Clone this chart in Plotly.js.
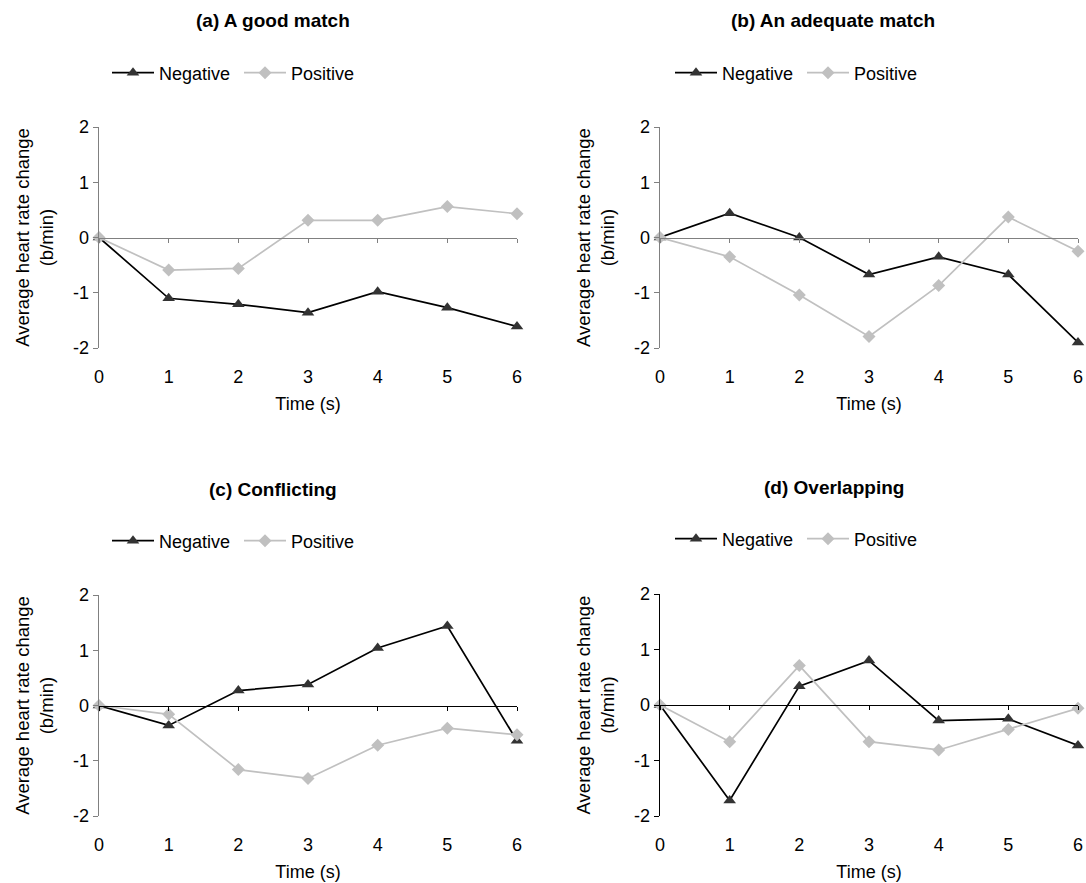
<!DOCTYPE html>
<html>
<head>
<meta charset="utf-8">
<script src="https://cdn.plot.ly/plotly-3.0.1.min.js"></script>
<style>html,body{margin:0;padding:0;background:#fff;}#chart{width:1086px;height:883px;}</style>
</head>
<body>
<div id="chart"></div>
<script>
// ---- data ----
const times = [0, 1, 2, 3, 4, 5, 6];
const panelTitles = ["(a) A good match", "(b) An adequate match", "(c) Conflicting", "(d) Overlapping"];
const seriesNames = ["Negative", "Positive"];
const aNegative = [0, -1.10, -1.21, -1.36, -0.98, -1.27, -1.61];
const aPositive = [0, -0.59, -0.56, 0.31, 0.31, 0.56, 0.43];
const bNegative = [0, 0.44, 0.00, -0.67, -0.35, -0.67, -1.90];
const bPositive = [0, -0.35, -1.04, -1.79, -0.87, 0.37, -0.25];
const cNegative = [0, -0.36, 0.27, 0.38, 1.04, 1.44, -0.64];
const cPositive = [0, -0.16, -1.16, -1.32, -0.72, -0.41, -0.53];
const dNegative = [0, -1.72, 0.34, 0.80, -0.28, -0.25, -0.73];
const dPositive = [0, -0.66, 0.71, -0.66, -0.81, -0.44, -0.06];
const yTicks = [-2, -1, 0, 1, 2];
const yTickText = ["-2", "-1", "0", "1", "2"];
const xTickText = ["0", "1", "2", "3", "4", "5", "6"];
const xTitle = "Time (s)";
const yTitle = "Average heart rate change<br>(b/min)";

const negData = [aNegative, bNegative, cNegative, dNegative];
const posData = [aPositive, bPositive, cPositive, dPositive];

// ---- layout geometry (pixels) ----
const W = 1086, H = 883;
const panels = [
  {x0: 99, x1: 517, top: 127, bottom: 348, titleX: 273, titleY: 21, legX: 107, legY: 73, zeroColor: "#808080", yLineColor: "#808080"},
  {x0: 660, x1: 1078, top: 127, bottom: 348, titleX: 833, titleY: 21, legX: 670, legY: 73, zeroColor: "#808080", yLineColor: "#808080"},
  {x0: 99, x1: 517, top: 595, bottom: 816, titleX: 273, titleY: 489, legX: 107, legY: 541, zeroColor: "#000000", yLineColor: "#808080"},
  {x0: 660, x1: 1078, top: 594, bottom: 816, titleX: 834, titleY: 487, legX: 670, legY: 539, zeroColor: "#000000", yLineColor: "#000000"}
];
const FONT = "Liberation Sans, Arial, sans-serif";
const px = v => v / W;
const py = v => 1 - v / H;

const traces = [];
const layout = {
  width: W, height: H,
  margin: {l: 0, r: 0, t: 0, b: 0},
  paper_bgcolor: "#ffffff",
  plot_bgcolor: "rgba(0,0,0,0)",
  font: {family: FONT, size: 18, color: "#000"},
  annotations: [],
  showlegend: true
};

panels.forEach((p, i) => {
  const n = i + 1;
  const xs = n === 1 ? "" : String(n);
  const legName = n === 1 ? "legend" : "legend" + n;
  const xDom = [px(p.x0), px(p.x1)];
  const yDom = [py(p.bottom), py(p.top)];
  const zeroY = (p.top + p.bottom) / 2;
  // x axis drawn through y = 0, labels pushed down to the bottom of the plot
  layout["xaxis" + xs] = {
    domain: xDom, range: [0, 6], anchor: "free",
    position: (yDom[0] + yDom[1]) / 2,
    showline: true, linecolor: p.zeroColor, linewidth: 1.3,
    ticks: "outside", ticklen: 4, tickcolor: p.zeroColor, tickwidth: 1,
    tickvals: times, ticktext: xTickText, showgrid: false, zeroline: false,
    ticklabelstandoff: Math.round(p.bottom - zeroY + 8),
    tickfont: {family: FONT, size: 18, color: "#000"},
    title: {text: xTitle, font: {family: FONT, size: 18, color: "#000"}, standoff: 11},
    fixedrange: true
  };
  layout["yaxis" + xs] = {
    domain: yDom, range: [-2, 2], anchor: "x" + xs,
    showline: true, linecolor: p.yLineColor, linewidth: 1.3,
    ticks: "outside", ticklen: 5, tickcolor: p.yLineColor,
    tickvals: yTicks, ticktext: yTickText, showgrid: false, zeroline: false,
    tickfont: {family: FONT, size: 18, color: "#000"},
    title: {text: yTitle, font: {family: FONT, size: 18.5, color: "#000"}, standoff: 14},
    fixedrange: true
  };
  layout[legName] = {
    orientation: "h", x: px(p.legX), y: py(p.legY), xanchor: "left", yanchor: "middle",
    font: {family: FONT, size: 18, color: "#000"}, bgcolor: "rgba(0,0,0,0)",
    itemwidth: 42, entrywidth: 75, entrywidthmode: "pixels",
    tracegroupgap: 0, itemclick: false, itemdoubleclick: false
  };
  layout.annotations.push({
    text: "<b>" + panelTitles[i] + "</b>", xref: "paper", yref: "paper",
    x: px(p.titleX), y: py(p.titleY), xanchor: "center", yanchor: "middle",
    showarrow: false, font: {family: FONT, size: 19, color: "#000"}
  });
  traces.push({
    x: times, y: negData[i], name: seriesNames[0], type: "scatter", mode: "lines+markers",
    xaxis: "x" + xs, yaxis: "y" + xs, legend: legName, cliponaxis: false,
    line: {color: "#000000", width: 1.7},
    marker: {symbol: "triangle-up", size: 11, color: "#333333", line: {width: 0}}
  });
  traces.push({
    x: times, y: posData[i], name: seriesNames[1], type: "scatter", mode: "lines+markers",
    xaxis: "x" + xs, yaxis: "y" + xs, legend: legName, cliponaxis: false,
    line: {color: "#c0c0c0", width: 1.7},
    marker: {symbol: "diamond", size: 10, color: "#c0c0c0", line: {width: 0}}
  });
});

Plotly.newPlot("chart", traces, layout, {staticPlot: true, displayModeBar: false});
</script>
</body>
</html>
